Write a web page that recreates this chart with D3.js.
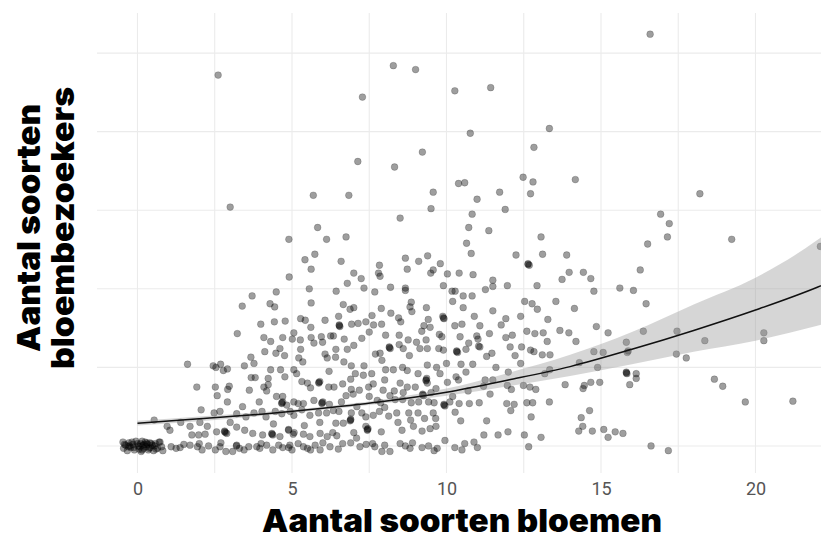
<!DOCTYPE html>
<html>
<head>
<meta charset="utf-8" />
<title>Bloemen en bloembezoekers</title>
<script src="https://cdn.jsdelivr.net/npm/d3@7"></script>
<style>
  html, body { margin: 0; background: #fff; }
  svg { display: block; }
  .tick-label { font-family: Roboto, "Liberation Sans", sans-serif; font-size: 18px; fill: #555; }
  .title { font-family: Inter, "Open Sans", sans-serif; font-weight: 900; font-size: 32px; fill: #000; }
</style>
</head>
<body>
<div id="container"></div>
<script>
// waarnemingen: [aantal soorten bloemen, aantal soorten bloembezoekers] (met jitter)
var waarnemingen = [
  [2.61,47.2],[3.0,30.4],[5.69,31.9],[5.83,27.8],[4.9,26.3],[6.12,26.3],
  [8.28,48.4],[9.0,47.9],[7.28,44.4],[10.27,45.2],[11.43,45.6],[13.33,40.4],[10.77,39.8],[12.83,38.0],
  [9.22,37.4],[7.13,36.2],[8.32,35.5],[12.48,34.2],[12.8,33.6],[14.17,33.9],[10.39,33.4],[10.59,33.5],
  [9.57,32.3],[11.72,32.3],[12.72,32.1],[6.84,31.9],[10.99,31.4],[9.5,30.2],[11.9,30.1],[8.5,29.0],
  [10.83,29.5],[10.72,27.8],[11.37,27.4],[6.75,26.6],[13.06,26.6],
  [16.59,52.4],[18.2,32.1],[16.93,29.5],[17.21,28.3],[17.15,26.6],[19.23,26.3],
  [16.51,25.7],[16.27,22.4],[14.43,22.1],[14.67,21.3],[15.61,20.1],[16.05,19.8],[14.77,19.7],[14.14,17.5],
  [16.46,18.1],[14.85,15.2],[15.23,14.4],[16.37,14.6],[17.46,14.6],[14.19,13.3],[15.82,13.2],[18.36,13.4],
  [20.27,14.4],[20.27,13.4],[14.77,12.0],[15.07,11.9],[15.88,12.1],[15.85,11.9],[17.44,11.7],[17.76,11.2],
  [14.3,10.6],[14.89,10.0],[15.82,9.3],[15.84,9.2],[16.14,9.2],[16.14,8.6],[15.93,7.8],[14.67,8.1],
  [14.96,8.1],[14.46,7.7],[14.42,7.3],[18.67,8.5],[18.94,7.6],[19.67,5.6],[21.21,5.7],[14.63,4.5],
  [14.36,3.6],[14.41,2.5],[14.28,1.9],[14.72,1.9],[15.09,2.1],[15.46,1.8],[15.23,1.1],[15.71,1.6],
  [16.62,0.0],[17.18,-0.6],[22.1,25.4],
  [10.65,25.8],[13.11,24.4],[10.8,24.5],[12.25,24.3],[13.89,24.3],[6.59,23.5],[8.67,23.9],[9.39,24.2],
  [9.1,23.5],[9.8,23.2],[12.64,23.2],[12.68,23.0],[7.83,23.0],[13.97,22.1],[13.74,21.2],[7.0,22.0],
  [7.8,22.0],[7.85,21.6],[8.73,22.5],[9.57,22.4],[9.49,22.0],[10.03,21.9],[10.41,22.0],[10.86,21.8],
  [7.24,21.3],[6.79,20.7],[7.33,20.1],[7.68,19.6],[8.19,20.2],[8.67,20.1],[8.67,19.8],[6.43,19.7],
  [9.9,20.4],[10.18,19.7],[10.28,19.7],[10.54,19.1],[10.83,19.1],[11.26,19.9],[11.5,21.1],[11.5,20.3],
  [11.97,20.4],[12.93,20.4],[13.54,18.4],[6.66,18.0],[7.0,17.6],[6.88,17.4],[7.89,17.5],[8.86,18.3],
  [8.82,17.7],[8.88,17.1],[9.35,17.6],[10.2,18.4],[10.54,17.6],[12.53,18.4],[12.77,18.1],[12.94,17.4],
  [12.4,16.5],[11.92,16.2],[13.28,16.1],[6.51,16.5],[7.59,16.6],[7.39,15.8],[7.14,15.6],[6.93,15.5],
  [6.53,15.3],[6.55,15.2],[7.64,15.4],[7.9,15.5],[8.45,16.3],[8.52,15.8],[9.41,16.1],[9.88,16.5],
  [9.92,16.2],[9.27,15.3],[9.47,15.1],[10.27,15.3],[10.5,15.5],[11.08,15.3],[11.77,15.4],[12.6,14.6],
  [12.86,14.3],[13.13,14.4],[13.67,14.7],[13.96,14.4],[6.34,14.0],[6.69,13.6],[7.26,13.7],[8.03,14.1],
  [8.47,14.1],[8.76,13.5],[9.34,13.5],[9.03,13.2],[9.77,14.2],[9.85,13.9],[10.44,13.9],[10.72,13.1],
  [10.98,14.0],[11.02,13.6],[11.39,14.3],[11.92,13.8],[12.13,14.1],[12.06,12.6],[12.43,12.6],[12.72,12.2],
  [12.83,12.0],[13.1,11.6],[13.26,13.3],[13.35,11.6],[12.22,11.5],[11.3,11.4],[11.47,11.8],[11.04,12.7],
  [11.08,12.6],[6.42,12.3],[6.79,12.3],[7.7,11.7],[7.85,11.8],[8.15,12.6],[8.18,12.4],[8.47,12.9],
  [8.6,12.4],[9.14,12.4],[9.38,12.4],[9.75,12.4],[9.9,12.2],[10.33,12.1],[10.36,11.9],[10.63,12.3],
  [8.8,11.5],[6.41,11.3],[6.68,10.7],[6.92,10.2],[7.33,10.2],[7.91,10.9],[7.58,9.2],[7.31,9.0],
  [7.05,9.2],[8.03,9.7],[8.28,9.7],[8.58,10.0],[8.73,9.6],[9.08,9.2],[9.38,10.3],[9.68,10.0],
  [9.34,8.4],[9.36,8.6],[9.38,8.0],[10.47,10.4],[10.85,10.4],[10.63,9.4],[9.79,9.2],[10.03,8.1],
  [10.31,8.8],[10.39,8.4],[11.25,8.4],[11.5,8.4],[11.97,7.7],[12.1,7.2],[12.49,7.7],[12.7,7.5],
  [12.89,7.2],[13.18,9.2],[13.34,9.7],[13.84,7.8],[6.36,7.5],[6.64,7.9],[6.92,7.2],[7.18,7.1],
  [7.48,7.5],[7.63,7.9],[7.95,7.1],[8.31,7.0],[8.5,8.0],[8.73,7.5],[8.99,7.5],[9.66,7.3],
  [6.75,6.4],[6.98,6.6],[7.5,6.3],[7.76,5.8],[7.87,5.5],[8.17,6.4],[8.34,5.9],[8.58,5.9],
  [8.86,5.5],[9.1,5.6],[9.23,6.6],[9.26,6.4],[9.42,5.6],[9.6,5.5],[9.92,5.3],[9.95,5.1],
  [10.11,5.6],[10.41,5.4],[10.74,5.4],[11.06,5.5],[11.41,6.6],[11.95,5.4],[12.08,4.5],[12.19,5.3],
  [12.6,5.5],[12.79,5.5],[13.33,5.6],[12.74,3.7],[6.52,4.4],[6.34,4.5],[6.92,4.2],[6.9,3.4],
  [6.88,3.2],[7.26,4.2],[7.39,3.7],[7.63,3.9],[7.83,4.4],[8.13,3.8],[8.39,4.2],[8.78,4.2],
  [8.84,3.3],[9.08,4.2],[9.29,3.5],[9.57,4.2],[9.65,3.5],[10.28,4.3],[10.46,3.2],[11.3,3.2],
  [6.42,2.9],[6.32,1.7],[6.66,2.9],[7.0,1.7],[7.39,2.5],[7.44,2.0],[7.46,2.2],[7.89,1.8],
  [8.43,3.0],[8.56,2.0],[8.93,2.5],[9.21,1.9],[9.47,2.2],[9.66,2.5],[6.45,1.3],[6.64,0.3],
  [6.9,0.4],[7.2,-0.1],[7.09,1.0],[7.61,0.3],[7.68,-0.1],[7.91,-0.7],[8.17,-0.7],[8.5,0.3],
  [8.67,0.0],[8.82,-0.3],[9.21,-0.2],[9.42,0.0],[9.6,-0.6],[9.95,0.7],[10.27,-0.2],[10.59,0.3],
  [10.89,0.5],[11.21,1.4],[11.67,1.4],[11.99,1.8],[12.52,1.4],[12.66,-0.1],[13.06,1.1],
  [5.74,24.4],[5.42,23.7],[5.62,22.5],[4.91,21.5],[5.56,20.0],[4.49,19.6],[3.71,19.1],[5.62,18.2],
  [3.39,17.8],[4.29,18.1],[4.44,17.7],[3.99,15.5],[4.43,15.8],[4.78,15.9],[5.28,16.2],[5.43,16.0],
  [5.61,15.1],[6.07,16.0],[3.23,14.3],[4.09,13.8],[4.31,13.3],[4.7,13.8],[5.01,13.6],[5.27,13.5],
  [5.06,14.4],[5.62,13.8],[5.95,13.9],[6.25,14.0],[5.71,13.1],[5.99,13.2],[4.12,12.0],[4.48,11.8],
  [4.61,12.4],[4.76,11.5],[5.28,12.3],[5.22,11.2],[5.35,10.7],[6.07,11.7],[6.14,11.2],[3.67,11.3],
  [3.77,10.5],[3.46,10.2],[1.62,10.4],[2.45,10.2],[2.54,10.0],[2.69,10.4],[2.78,9.6],[2.91,9.8],
  [4.31,9.7],[4.63,9.7],[4.77,8.8],[5.06,9.7],[5.15,9.2],[3.68,8.7],[3.81,8.7],[4.23,8.6],
  [4.23,7.8],[5.32,8.2],[5.5,8.0],[5.87,8.0],[5.9,8.2],[6.19,7.5],[5.6,7.4],[1.92,7.5],
  [2.52,7.5],[2.92,7.2],[2.97,7.6],[4.18,7.0],[4.09,7.5],[2.58,6.4],[2.91,5.6],[3.62,7.1],
  [3.94,5.6],[4.5,6.3],[4.7,6.3],[4.67,5.4],[4.7,5.6],[4.83,5.2],[5.06,5.6],[5.2,5.4],
  [5.37,5.4],[5.71,5.8],[5.97,5.4],[6.0,5.6],[6.21,5.3],[2.06,4.6],[2.48,4.2],[2.67,4.4],
  [3.21,4.1],[3.51,3.7],[3.77,4.2],[4.03,4.4],[4.16,3.7],[4.46,4.4],[4.67,4.1],[4.94,4.4],
  [5.06,3.9],[5.32,4.6],[5.58,3.9],[5.86,4.2],[6.12,4.2],[0.54,3.3],[0.96,2.5],[1.05,2.0],
  [1.4,3.0],[1.7,2.5],[2.02,3.0],[2.26,2.5],[1.76,1.4],[1.98,1.4],[2.19,1.5],[2.56,1.8],
  [2.82,1.9],[2.85,1.7],[2.89,1.6],[3.21,2.4],[3.47,2.0],[3.73,1.6],[4.05,1.4],[4.35,1.6],
  [4.38,1.4],[4.61,1.2],[4.89,2.0],[5.04,1.5],[5.07,1.7],[5.37,1.5],[5.58,1.2],[5.91,1.6],[6.14,1.2],
  [0.73,0.5],[1.09,-0.1],[1.25,-0.3],[1.38,-0.2],[1.7,0.1],[1.94,-0.1],[2.09,-0.5],[2.3,0.0],
  [2.52,-0.5],[2.67,-0.1],[2.86,-0.7],[3.08,-0.7],[3.21,0.1],[3.45,-0.5],[3.6,-0.1],[3.86,-0.1],
  [3.96,-0.3],[4.18,0.1],[4.38,-0.5],[4.57,0.1],[4.89,-0.2],[4.93,0.1],[5.0,-0.5],[5.37,-0.1],
  [5.6,-0.5],[5.75,0.1],[5.91,-0.5],[6.23,-0.1],
  [-0.47,0.5],[-0.45,-0.3],[-0.38,0.1],[-0.33,-0.6],[-0.28,0.4],[-0.22,-0.2],[-0.15,0.2],[-0.1,-0.5],
  [-0.05,0.6],[0.02,0.0],[0.05,-0.4],[0.1,0.3],[0.12,-0.7],[0.18,0.1],[0.2,-0.3],[0.25,0.5],
  [0.28,-0.1],[0.32,0.2],[0.35,-0.5],[0.4,0.4],[0.42,-0.2],[0.48,0.1],[0.52,-0.6],[0.58,0.3],
  [0.65,-0.3],[0.7,0.5],[0.78,-0.1],[0.82,-0.6],
  [-0.42,0.2],[-0.3,-0.1],[-0.18,0.5],[-0.12,-0.2],[0.0,0.3],[0.08,-0.1],[0.15,-0.5],[0.22,0.2],
  [0.3,0.4],[0.38,-0.3],[0.45,0.3],[0.55,0.0],[0.6,-0.4],[-0.25,0.0],[0.15,0.6],
  [6.53,15.4],[8.15,12.5],[9.9,16.3],[10.33,12.0],[9.34,8.3],[9.23,6.5],[9.92,5.2],[6.9,3.3],
  [7.44,2.1],[12.64,23.1],[15.82,9.4],[5.87,8.1],[5.97,5.5],[4.35,1.5],[4.89,2.1],[2.82,1.8],
  [4.67,5.5],[3.2,0.0],[1.5,0.2],[2.0,0.3],[2.7,0.4],[3.3,-0.3],[4.0,0.3],[4.7,-0.2],
  [5.2,0.3],[5.5,-0.3],[6.0,0.4],[6.5,-0.4],[7.4,0.2],[8.0,0.1],[8.9,0.4],[9.7,-0.3],
  [10.5,-0.5],[11.0,-0.2],[3.0,3.0],[3.4,5.0],[4.4,2.8],[5.4,2.6],[5.9,3.0],[6.6,5.6],
  [7.1,5.0],[8.0,4.9],[8.6,6.8],[9.5,6.8],[10.2,6.3],[10.7,7.0],[11.2,7.6],[10.0,10.5],
  [11.6,10.0],[12.4,10.5],[7.0,12.8],[7.5,14.5],[8.2,16.9],[9.2,14.6],[10.9,16.5],[11.5,17.2],
  [6.2,9.5],[6.9,8.5],[8.0,8.4],[12.0,9.4]
];

var fitX  = [0, 2, 4, 6, 8, 10, 12, 14, 16, 18, 20, 22, 23];
var fitY  = [2.9, 3.45, 4.05, 4.8, 5.7, 6.85, 8.4, 10.1, 12.3, 14.7, 17.3, 20.2, 21.9];
var fitLo = [2.62, 3.15, 3.8, 4.6, 5.45, 6.4, 7.6, 8.9, 10.4, 12.0, 13.4, 15.3, 16.3];
var fitHi = [3.2, 3.75, 4.3, 5.0, 5.95, 7.3, 9.3, 11.6, 14.5, 18.0, 21.4, 26.2, 29.2];

var xTicks = [0, 5, 10, 15, 20];
var xGrid = [0, 2.5, 5, 7.5, 10, 12.5, 15, 17.5, 20, 22.5];
var yGrid = [0, 10, 20, 30, 40, 50];

var width = 821, height = 536;
var panel = { left: 97, right: 821, top: 13, bottom: 473 };

var x = d3.scaleLinear().domain([-1.31, 22.12]).range([panel.left, panel.right]);
var y = d3.scaleLinear().domain([-3.44, 55.1]).range([panel.bottom, panel.top]);

var svg = d3.select("#container").append("svg")
    .attr("width", width)
    .attr("height", height);

svg.append("rect").attr("width", width).attr("height", height).attr("fill", "#fff");

svg.append("clipPath").attr("id", "clip")
  .append("rect")
    .attr("x", panel.left).attr("y", panel.top)
    .attr("width", panel.right - panel.left).attr("height", panel.bottom - panel.top);

var grid = svg.append("g").attr("clip-path", "url(#clip)");

grid.selectAll(".vgrid").data(xGrid).enter().append("line")
    .attr("x1", function(d) { return x(d); })
    .attr("x2", function(d) { return x(d); })
    .attr("y1", panel.top).attr("y2", panel.bottom)
    .attr("stroke", "#ebebeb").attr("stroke-width", 1.1);

grid.selectAll(".hgrid").data(yGrid).enter().append("line")
    .attr("y1", function(d) { return y(d); })
    .attr("y2", function(d) { return y(d); })
    .attr("x1", panel.left).attr("x2", panel.right)
    .attr("stroke", "#ebebeb").attr("stroke-width", 1.1);

var plot = svg.append("g").attr("clip-path", "url(#clip)");

plot.selectAll("circle").data(waarnemingen).enter().append("circle")
    .attr("cx", function(d) { return x(d[0]); })
    .attr("cy", function(d) { return y(d[1]); })
    .attr("r", 3.4)
    .attr("fill", "#000").attr("fill-opacity", 0.38)
    .attr("stroke", "#000").attr("stroke-opacity", 0.22).attr("stroke-width", 0.8);

var fit = fitX.map(function(v, i) { return { x: v, y: fitY[i], lo: fitLo[i], hi: fitHi[i] }; });

var band = d3.area()
    .x(function(d) { return x(d.x); })
    .y0(function(d) { return y(d.lo); })
    .y1(function(d) { return y(d.hi); })
    .curve(d3.curveMonotoneX);

var line = d3.line()
    .x(function(d) { return x(d.x); })
    .y(function(d) { return y(d.y); })
    .curve(d3.curveMonotoneX);

plot.append("path").datum(fit)
    .attr("d", band)
    .attr("fill", "#999").attr("fill-opacity", 0.4);

plot.append("path").datum(fit)
    .attr("d", line)
    .attr("fill", "none").attr("stroke", "#111").attr("stroke-width", 1.5);

// x-as
var xAxis = d3.axisBottom(x).tickValues(xTicks).tickSize(0).tickPadding(9);
var ax = svg.append("g").attr("transform", "translate(0," + panel.bottom + ")").call(xAxis);
ax.select(".domain").remove();
ax.selectAll("text").attr("class", "tick-label").attr("fill", null);

// titels
svg.append("text").attr("class", "title")
    .attr("x", 462).attr("y", 532)
    .attr("text-anchor", "middle")
    .attr("textLength", 400).attr("lengthAdjust", "spacingAndGlyphs")
    .text("Aantal soorten bloemen");

var yTitle = svg.append("g").attr("transform", "translate(0,228) rotate(-90)");
yTitle.append("text").attr("class", "title")
    .attr("x", 0).attr("y", 40)
    .attr("text-anchor", "middle")
    .attr("textLength", 248).attr("lengthAdjust", "spacingAndGlyphs")
    .text("Aantal soorten");
yTitle.append("text").attr("class", "title")
    .attr("x", 0).attr("y", 74)
    .attr("text-anchor", "middle")
    .attr("textLength", 282).attr("lengthAdjust", "spacingAndGlyphs")
    .text("bloembezoekers");
</script>
</body>
</html>
